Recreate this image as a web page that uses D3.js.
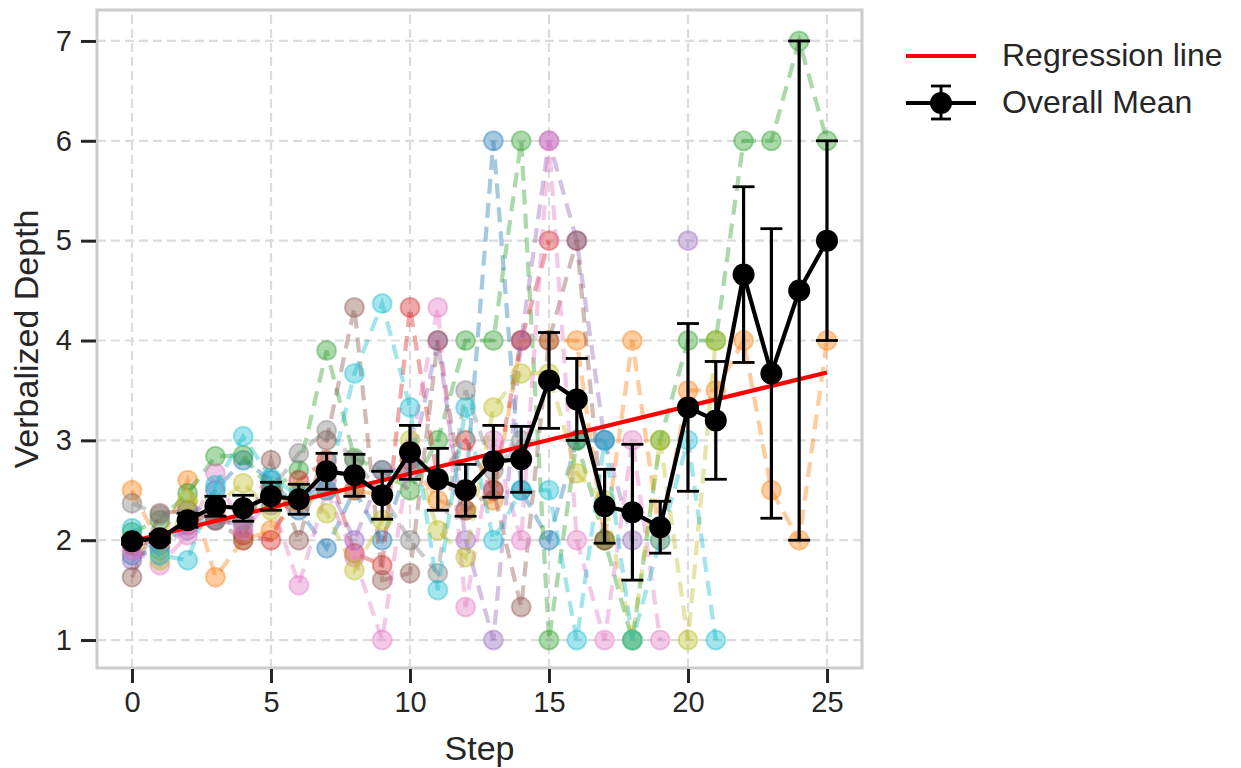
<!DOCTYPE html>
<html>
<head>
<meta charset="utf-8">
<script src="https://cdn.jsdelivr.net/npm/d3@7"></script>
<style>
  body { margin: 0; background: #fff; }
  svg { font-family: 'Liberation Sans', Arial, sans-serif; }
</style>
</head>
<body>
<div id="chart"></div>
<script>
const width = 1241;
const height = 768;

// data
const steps = d3.range(0, 26);
const meanDepth = [1.99, 2.02, 2.2, 2.34, 2.32, 2.44, 2.41, 2.69, 2.65, 2.45, 2.88, 2.61, 2.5, 2.79, 2.81, 3.6, 3.41, 2.34, 2.28, 2.13, 3.33, 3.2, 4.66, 3.67, 4.5, 5.0];
const meanErr = [0.03, 0.04, 0.07, 0.1, 0.13, 0.14, 0.15, 0.18, 0.21, 0.24, 0.27, 0.31, 0.26, 0.36, 0.33, 0.48, 0.41, 0.37, 0.68, 0.26, 0.84, 0.59, 0.88, 1.45, 2.5, 1.0];
const regIntercept = 1.99;
const regSlope = 0.0676;

const blue   = [1.85, 1.9, 2.2, 2.5, 2.8, 2.6, 2.3, 1.92, 2.5, 2.0, 2.8, 2.6, 2.5, 6.0, 2.5, 2.0, 3.0, 3.0];
const orange = [2.5, 1.95, 2.6, 1.63, 2.0, 2.1, 2.38, 2.5, 2.5, 2.45, 2.8, 2.4, 2.3, 2.4, 4.0, 4.0, 4.0, 2.0, 4.0, 2.0, 3.5, 3.5, 4.0, 2.5, 2.0, 4.0];
const green  = [2.08, 2.2, 2.47, 2.84, 2.85, 2.5, 2.7, 3.9, 2.82, 2.7, 2.5, 3.0, 4.0, 4.0, 6.0, 1.0, 3.0, 2.0, 1.0, 3.0, 4.0, 4.0, 6.0, 6.0, 7.0, 6.0];
const red    = [1.95, 2.0, 2.15, 2.3, 2.05, 2.0, 2.6, 2.8, 1.87, 1.75, 4.33, 2.6, 3.0, 2.5, 4.0, 5.0];
const purple = [1.8, 1.95, 2.1, 2.2, 2.15, 2.35, 2.4, 2.6, 2.0, 2.7, 2.7, 4.0, 2.0, 1.0, 4.0, 6.0, 5.0, 3.0, 2.0, null, 5.0];
const brown  = [1.63, 2.27, 2.3, 2.2, 2.0, 2.8, 2.0, 3.0, 4.33, 1.6, 1.67, 4.0, 2.3, 2.5, 1.33, 4.0, 5.0, 2.0];
const pink   = [1.9, 1.75, 2.05, 2.67, 2.1, 2.4, 1.55, 2.5, 1.83, 1.0, 2.9, 4.33, 1.33, 3.0, 2.0, 6.0, 2.0, 1.0, 3.0, 1.0];
const gray   = [2.37, 2.25, 2.3, 2.2, 2.2, 2.5, 2.87, 3.1, 2.8, 2.45, 2.0, 1.67, 3.5, 2.7, 3.0];
const olive  = [2.0, 1.8, 2.4, 2.35, 2.57, 2.3, 2.5, 2.27, 1.7, 2.2, 3.0, 2.1, 1.83, 3.33, 3.67, 3.67, 2.67, 2.4, 1.0, 3.0, 1.0, 4.0];
const cyan   = [2.12, 1.85, 1.8, 2.55, 3.04, 2.62, 2.45, 2.5, 3.67, 4.37, 3.33, 1.5, 3.33, 2.0, 2.5, 2.5, 1.0, 3.0, 1.0, 2.0, 3.0, 1.0];

const runs = [blue, orange, green, red, purple, brown, pink, gray, olive, cyan];
const runColors = ['#1f77b4', '#ff7f0e', '#2ca02c', '#d62728', '#9467bd', '#8c564b', '#e377c2', '#7f7f7f', '#bcbd22', '#17becf'];

const xTicks = [0, 5, 10, 15, 20, 25];
const yTicks = [1, 2, 3, 4, 5, 6, 7];

const margin = { left: 97, right: 379, top: 10, bottom: 100 };
const textColor = '#262626';
const font = "'Liberation Sans', Arial, sans-serif";

const x = d3.scaleLinear().domain([-1.26, 26.26]).range([margin.left, width - margin.right]);
const y = d3.scaleLinear().domain([0.72, 7.31]).range([height - margin.bottom, margin.top]);

const svg = d3.select('#chart').append('svg')
  .attr('width', width)
  .attr('height', height);

// grid
svg.append('g')
  .selectAll('line')
  .data(xTicks)
  .join('line')
  .attr('x1', d => x(d)).attr('x2', d => x(d))
  .attr('y1', y.range()[0]).attr('y2', y.range()[1])
  .attr('stroke', '#dcdcdc').attr('stroke-width', 2.2).attr('stroke-dasharray', '9,5');

svg.append('g')
  .selectAll('line')
  .data(yTicks)
  .join('line')
  .attr('y1', d => y(d)).attr('y2', d => y(d))
  .attr('x1', x.range()[0]).attr('x2', x.range()[1])
  .attr('stroke', '#dcdcdc').attr('stroke-width', 2.2).attr('stroke-dasharray', '9,5');

// individual runs
const line = d3.line()
  .defined(d => d != null)
  .x((d, i) => x(i))
  .y(d => y(d));

const runG = svg.append('g');
runs.forEach((run, k) => {
  const c = runColors[k];
  runG.append('path')
    .datum(run)
    .attr('d', line)
    .attr('fill', 'none')
    .attr('stroke', c)
    .attr('stroke-opacity', 0.4)
    .attr('stroke-width', 4.2)
    .attr('stroke-dasharray', '15,9');
  runG.append('g')
    .selectAll('circle')
    .data(run.map((v, i) => [i, v]).filter(d => d[1] != null))
    .join('circle')
    .attr('cx', d => x(d[0]))
    .attr('cy', d => y(d[1]))
    .attr('r', 9.5)
    .attr('fill', c)
    .attr('fill-opacity', 0.4)
    .attr('stroke', c)
    .attr('stroke-opacity', 0.4)
    .attr('stroke-width', 2);
});

// regression line
svg.append('line')
  .attr('x1', x(0)).attr('y1', y(regIntercept))
  .attr('x2', x(25)).attr('y2', y(regIntercept + regSlope * 25))
  .attr('stroke', '#ff0000').attr('stroke-width', 4.2);

// overall mean with error bars
const meanG = svg.append('g');
const meanData = steps.map(i => ({ s: i, m: meanDepth[i], e: meanErr[i] }));
meanG.selectAll('line.err')
  .data(meanData)
  .join('line')
  .attr('class', 'err')
  .attr('x1', d => x(d.s)).attr('x2', d => x(d.s))
  .attr('y1', d => y(d.m - d.e)).attr('y2', d => y(d.m + d.e))
  .attr('stroke', '#000').attr('stroke-width', 3.2);
meanG.selectAll('line.capTop')
  .data(meanData)
  .join('line')
  .attr('class', 'capTop')
  .attr('x1', d => x(d.s) - 11).attr('x2', d => x(d.s) + 11)
  .attr('y1', d => y(d.m + d.e)).attr('y2', d => y(d.m + d.e))
  .attr('stroke', '#000').attr('stroke-width', 2.8);
meanG.selectAll('line.capBot')
  .data(meanData)
  .join('line')
  .attr('class', 'capBot')
  .attr('x1', d => x(d.s) - 11).attr('x2', d => x(d.s) + 11)
  .attr('y1', d => y(d.m - d.e)).attr('y2', d => y(d.m - d.e))
  .attr('stroke', '#000').attr('stroke-width', 2.8);
meanG.append('path')
  .datum(meanDepth)
  .attr('d', line)
  .attr('fill', 'none')
  .attr('stroke', '#000')
  .attr('stroke-width', 4.2);
meanG.selectAll('circle')
  .data(meanData)
  .join('circle')
  .attr('cx', d => x(d.s))
  .attr('cy', d => y(d.m))
  .attr('r', 11)
  .attr('fill', '#000');

// frame
svg.append('rect')
  .attr('x', x.range()[0]).attr('y', y.range()[1])
  .attr('width', x.range()[1] - x.range()[0])
  .attr('height', y.range()[0] - y.range()[1])
  .attr('fill', 'none')
  .attr('stroke', '#cccccc')
  .attr('stroke-width', 3);

// axes
const xAxis = svg.append('g')
  .attr('transform', `translate(0,${y.range()[0] + 1})`)
  .call(d3.axisBottom(x).tickValues(xTicks).tickFormat(d3.format('d')).tickSize(14).tickPadding(8));
const yAxis = svg.append('g')
  .attr('transform', `translate(${x.range()[0] - 1},0)`)
  .call(d3.axisLeft(y).tickValues(yTicks).tickFormat(d3.format('d')).tickSize(15).tickPadding(9));
[xAxis, yAxis].forEach(a => {
  a.attr('font-size', 29).attr('font-family', font);
  a.select('.domain').remove();
  a.selectAll('.tick line').attr('stroke', textColor).attr('stroke-width', 3);
  a.selectAll('.tick text').attr('fill', textColor);
});

svg.append('text')
  .attr('x', (x.range()[0] + x.range()[1]) / 2)
  .attr('y', 760)
  .attr('text-anchor', 'middle')
  .attr('fill', textColor)
  .attr('font-size', 34)
  .text('Step');

svg.append('text')
  .attr('transform', `translate(38,${(y.range()[0] + y.range()[1]) / 2}) rotate(-90)`)
  .attr('text-anchor', 'middle')
  .attr('fill', textColor)
  .attr('font-size', 34)
  .text('Verbalized Depth');

// legend
const legend = svg.append('g').attr('transform', 'translate(906,0)');
legend.append('line')
  .attr('x1', 0).attr('x2', 70).attr('y1', 56).attr('y2', 56)
  .attr('stroke', '#ff0000').attr('stroke-width', 4.2);
legend.append('text')
  .attr('x', 96).attr('y', 66)
  .attr('fill', textColor).attr('font-size', 32)
  .text('Regression line');
legend.append('line')
  .attr('x1', 0).attr('x2', 70).attr('y1', 103).attr('y2', 103)
  .attr('stroke', '#000').attr('stroke-width', 4.2);
legend.append('line')
  .attr('x1', 35).attr('x2', 35).attr('y1', 86).attr('y2', 119)
  .attr('stroke', '#000').attr('stroke-width', 3);
legend.append('line')
  .attr('x1', 25).attr('x2', 45).attr('y1', 86).attr('y2', 86)
  .attr('stroke', '#000').attr('stroke-width', 2.8);
legend.append('line')
  .attr('x1', 25).attr('x2', 45).attr('y1', 119).attr('y2', 119)
  .attr('stroke', '#000').attr('stroke-width', 2.8);
legend.append('circle')
  .attr('cx', 35).attr('cy', 103).attr('r', 11).attr('fill', '#000');
legend.append('text')
  .attr('x', 96).attr('y', 113)
  .attr('fill', textColor).attr('font-size', 32)
  .text('Overall Mean');
</script>
</body>
</html>
